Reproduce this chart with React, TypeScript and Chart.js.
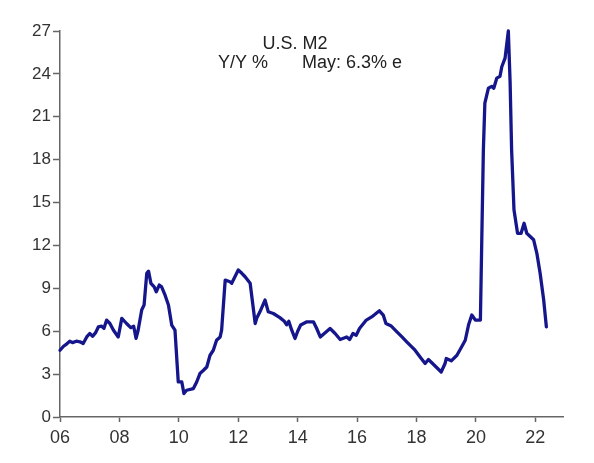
import React, { useEffect, useRef } from "react";
import { Chart, registerables } from "chart.js";

Chart.register(...registerables);

// decimal year of each reading, and the M2 y/y % growth read at that point
const years = [
    2006.0, 2006.12, 2006.22, 2006.33, 2006.42, 2006.55, 2006.67, 2006.78, 2006.9, 2007.0,
    2007.1, 2007.2, 2007.29, 2007.4, 2007.48, 2007.57, 2007.68, 2007.8, 2007.96, 2008.08,
    2008.24, 2008.38, 2008.48, 2008.56, 2008.63, 2008.75, 2008.83, 2008.92, 2008.98, 2009.06,
    2009.17, 2009.24, 2009.34, 2009.42, 2009.54, 2009.65, 2009.76, 2009.87, 2009.98, 2010.1,
    2010.17, 2010.26, 2010.49, 2010.6, 2010.71, 2010.83, 2010.94, 2011.05, 2011.16, 2011.27,
    2011.39, 2011.44, 2011.56, 2011.72, 2011.78, 2012.0, 2012.12, 2012.23, 2012.4, 2012.57,
    2012.62, 2012.73, 2012.9, 2013.01, 2013.18, 2013.4, 2013.55, 2013.63, 2013.7, 2013.8,
    2013.91, 2014.0, 2014.1, 2014.31, 2014.53, 2014.64, 2014.76, 2015.09, 2015.26, 2015.43,
    2015.65, 2015.75, 2015.86, 2015.97, 2016.08, 2016.31, 2016.49, 2016.75, 2016.88, 2016.97,
    2017.15, 2017.34, 2017.51, 2017.67, 2017.84, 2017.95, 2018.12, 2018.29, 2018.4, 2018.54,
    2018.66, 2018.83, 2018.96, 2019.0, 2019.17, 2019.36, 2019.52, 2019.64, 2019.75, 2019.86,
    2019.98, 2020.15, 2020.2, 2020.25, 2020.3, 2020.42, 2020.53, 2020.6, 2020.7, 2020.81,
    2020.87, 2020.98, 2021.09, 2021.15, 2021.2, 2021.28, 2021.4, 2021.52, 2021.62, 2021.71,
    2021.94, 2022.05, 2022.16, 2022.28, 2022.37,
];

const m2Yoy = [
    4.67, 4.95, 5.1, 5.3, 5.2, 5.3, 5.26, 5.14, 5.6, 5.84,
    5.65, 5.9, 6.3, 6.35, 6.2, 6.78, 6.54, 6.07, 5.6, 6.9,
    6.54, 6.25, 6.35, 5.5, 6.07, 7.48, 7.83, 10.05, 10.2, 9.35,
    9.1, 8.76, 9.23, 9.1, 8.5, 7.83, 6.43, 6.07, 2.45, 2.45,
    1.64, 1.87, 1.99, 2.45, 3.04, 3.27, 3.5, 4.32, 4.67, 5.37,
    5.6, 6.07, 9.58, 9.46, 9.35, 10.28, 10.05, 9.81, 9.35, 6.54,
    6.9, 7.36, 8.18, 7.36, 7.24, 6.95, 6.7, 6.45, 6.7, 6.07,
    5.49, 6.0, 6.43, 6.66, 6.66, 6.19, 5.6, 6.19, 5.84, 5.42,
    5.6, 5.42, 5.84, 5.72, 6.19, 6.78, 7.0, 7.43, 7.13, 6.54,
    6.36, 5.96, 5.6, 5.26, 4.91, 4.67, 4.2, 3.74, 4.02, 3.74,
    3.5, 3.15, 3.74, 4.09, 3.93, 4.32, 4.91, 5.37, 6.43, 7.13,
    6.78, 6.78, 12.85, 18.7, 21.96, 23.0, 23.13, 23.0, 23.7, 23.83,
    24.5, 25.1, 27.0, 23.4, 18.7, 14.5, 12.85, 12.85, 13.55, 12.85,
    12.4, 11.45, 10.05, 8.18, 6.3,
];

const xTicks = [2006, 2008, 2010, 2012, 2014, 2016, 2018, 2020, 2022];
const yTicks = [0, 3, 6, 9, 12, 15, 18, 21, 24, 27];

const titleLine = "U.S. M2";
const subLeft = "Y/Y %";
const subRight = "May: 6.3% e";

const FONT = "'Liberation Sans', Arial, sans-serif";

const M2Chart: React.FC = () => {
    const canvasRef = useRef<HTMLCanvasElement | null>(null);

    useEffect(() => {
        document.body.style.margin = "0";
        if (!canvasRef.current) return;

        // title text drawn inside the plot, like the original
        const titlePlugin = {
            id: "insideTitle",
            afterDraw: (chart: any) => {
                const ctx = chart.ctx;
                ctx.save();
                ctx.fillStyle = "#222";
                ctx.font = `18px ${FONT}`;
                ctx.textBaseline = "alphabetic";
                ctx.textAlign = "center";
                ctx.fillText(titleLine, 295, 49);
                ctx.textAlign = "left";
                ctx.fillText(subLeft, 218, 68);
                ctx.fillText(subRight, 302, 68);
                ctx.restore();
            },
        };

        const chart = new Chart(canvasRef.current, {
            type: "line",
            data: {
                datasets: [
                    {
                        data: years.map((x, i) => ({ x, y: m2Yoy[i] })),
                        borderColor: "#16168c",
                        borderWidth: 3.3,
                        borderJoinStyle: "round",
                        borderCapStyle: "round",
                        pointRadius: 0,
                        tension: 0,
                        fill: false,
                        clip: false,
                    },
                ],
            },
            options: {
                animation: false,
                responsive: false,
                layout: { padding: { top: 31, right: 31, left: 0, bottom: 0 } },
                plugins: {
                    legend: { display: false },
                    tooltip: { enabled: false },
                },
                scales: {
                    x: {
                        type: "linear",
                        min: 2006,
                        max: 2022.93,
                        afterBuildTicks: (scale: any) => {
                            scale.ticks = xTicks.map((v) => ({ value: v }));
                        },
                        afterFit: (scale: any) => {
                            scale.height = 46;
                        },
                        ticks: {
                            color: "#333",
                            font: { family: FONT, size: 18 },
                            padding: 5,
                            maxRotation: 0,
                            callback: (v: any) => String(Number(v) % 100).padStart(2, "0"),
                        },
                        grid: {
                            drawOnChartArea: false,
                            tickLength: 5,
                            tickColor: "#666",
                            tickWidth: 1.5,
                        },
                        border: { color: "#666", width: 1.5 },
                    },
                    y: {
                        min: 0,
                        max: 27,
                        afterBuildTicks: (scale: any) => {
                            scale.ticks = yTicks.map((v) => ({ value: v }));
                        },
                        afterFit: (scale: any) => {
                            scale.width = 60;
                        },
                        ticks: {
                            color: "#333",
                            font: { family: FONT, size: 17 },
                            padding: 2,
                        },
                        grid: {
                            drawOnChartArea: false,
                            tickLength: 7,
                            tickColor: "#666",
                            tickWidth: 1.5,
                        },
                        border: { color: "#666", width: 1.5 },
                    },
                },
            },
            plugins: [titlePlugin],
        });

        return () => chart.destroy();
    }, []);

    return (
        <div style={{ width: 594, height: 463, background: "#fff" }}>
            <canvas ref={canvasRef} width={594} height={463} />
        </div>
    );
};

export default function App() {
    return <M2Chart />;
}
